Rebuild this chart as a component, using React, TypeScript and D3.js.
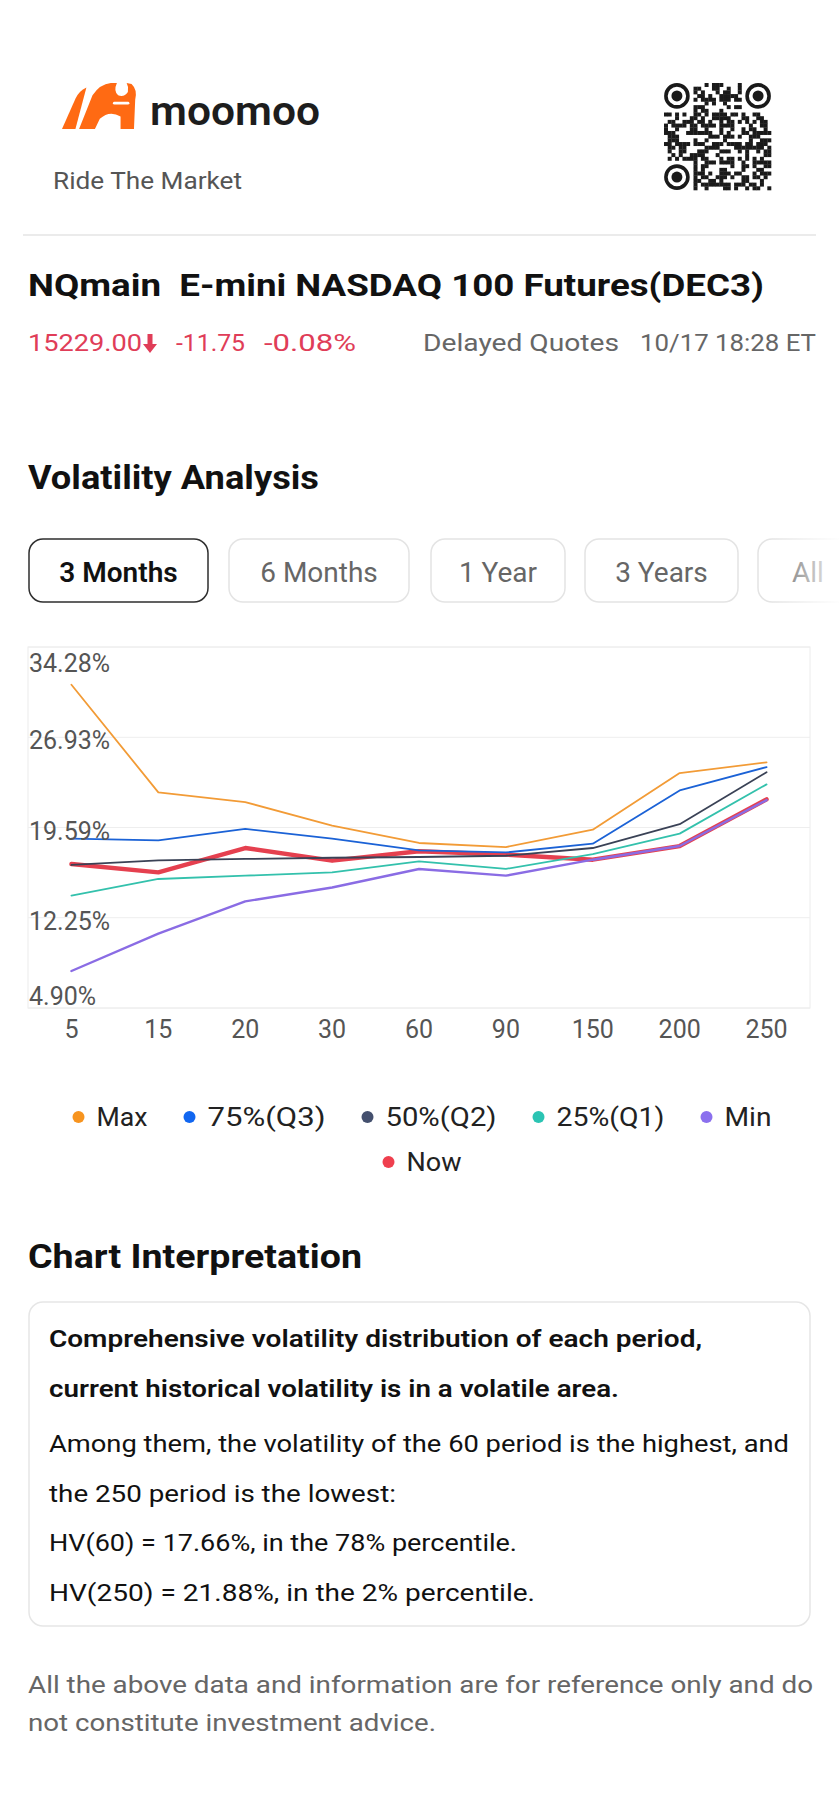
import React, { useMemo } from "react";
import * as d3 from "d3";

// ---------- data ----------
const periods = ["5", "15", "20", "30", "60", "90", "150", "200", "250"];
const maxValues = [31.21, 22.45, 21.66, 19.74, 18.33, 18.0, 19.41, 24.02, 24.89];
const q3Values = [18.68, 18.54, 19.47, 18.68, 17.73, 17.56, 18.27, 22.61, 24.51];
const q2Values = [16.54, 16.91, 17.03, 17.13, 17.19, 17.29, 17.92, 19.86, 24.09];
const q1Values = [14.04, 15.4, 15.67, 15.94, 16.83, 16.22, 17.43, 19.09, 23.1];
const minValues = [7.91, 10.95, 13.58, 14.71, 16.21, 15.67, 16.97, 18.08, 21.82];
const nowValues = [16.62, 15.94, 17.92, 16.89, 17.66, 17.38, 16.97, 18.08, 21.88];
const yTickValues = [4.9, 12.25, 19.59, 26.93, 34.28];
const seriesNames = ["Max", "75%(Q3)", "50%(Q2)", "25%(Q1)", "Min", "Now"];
const tabLabels = ["3 Months", "6 Months", "1 Year", "3 Years", "All"];

// ---------- styling ----------
const FONT = "Roboto, 'Noto Sans', 'DejaVu Sans', sans-serif";
const seriesColors = ["#F29B36", "#1B62D6", "#3A4256", "#33C1AC", "#8A6CE4", "#E5404F"];
const legendColors = ["#F7941F", "#1166F0", "#44506E", "#2BC4B3", "#8B70EE", "#EF3F4E"];
const legendTextWidths = [51, 118, 111, 108, 47, 55];
const RED = "#E03D58";

const W = 839;
const H = 1814;
const plot = { left: 28, right: 810, top: 647, bottom: 1008 };

// deterministic decorative QR pattern
function qrModules(n: number): boolean[][] {
  let s = 12345;
  const grid: boolean[][] = [];
  for (let r = 0; r < n; r++) {
    const row: boolean[] = [];
    for (let c = 0; c < n; c++) {
      s = (s * 1103515245 + 12345) & 0x7fffffff;
      row.push(((s >> 16) & 7) < 4);
    }
    grid.push(row);
  }
  return grid;
}

function Logo() {
  return (
    <g>
      <g transform="translate(62,83) scale(1.22,1.12) translate(-73,-86)">
        <path d="M73,127 L84,100 Q87,93 93,90 L84,127 Z" fill="#FF6A13" />
        <path
          d="M87,127 L98,97 Q104,87 113,86 L118,86 Q115,93 119,97 Q124,99 127,94 Q128,90 126,86 L130,87 Q135,92 133,101 L132,127 L121,127 L121,116 Q112,110 104,118 L100,127 Z"
          fill="#FF6A13"
        />
        <path d="M116,104 L127,104" stroke="#fff" strokeWidth={2.5} strokeLinecap="round" />
      </g>
      <text x={150} y={125} fontFamily={FONT} fontSize={41} fontWeight={600} fill="#1d1d1d" textLength={170} lengthAdjust="spacingAndGlyphs">
        moomoo
      </text>
      <text x={53} y={189} fontFamily={FONT} fontSize={24} fill="#555" textLength={189} lengthAdjust="spacingAndGlyphs">
        Ride The Market
      </text>
    </g>
  );
}

function QR() {
  const n = 29;
  const x0 = 664;
  const y0 = 83;
  const size = 107;
  const m = size / n;
  const grid = useMemo(() => qrModules(n), []);
  const cells: JSX.Element[] = [];
  const inFinder = (r: number, c: number) =>
    (r < 8 && c < 8) || (r < 8 && c >= n - 8) || (r >= n - 8 && c < 8);
  grid.forEach((row, r) =>
    row.forEach((on, c) => {
      if (on && !inFinder(r, c)) {
        cells.push(<rect key={`${r}-${c}`} x={x0 + c * m} y={y0 + r * m} width={m + 0.3} height={m + 0.3} fill="#1a1a1a" />);
      }
    })
  );
  const finders = [
    [x0 + 3.5 * m, y0 + 3.5 * m],
    [x0 + (n - 3.5) * m, y0 + 3.5 * m],
    [x0 + 3.5 * m, y0 + (n - 3.5) * m],
  ];
  return (
    <g>
      {cells}
      {finders.map(([cx, cy], i) => (
        <g key={i}>
          <circle cx={cx} cy={cy} r={11} fill="none" stroke="#1a1a1a" strokeWidth={3.6} />
          <circle cx={cx} cy={cy} r={5.5} fill="#1a1a1a" />
        </g>
      ))}
    </g>
  );
}

export default function App() {
  const x = d3.scalePoint<string>().domain(periods).range([plot.left, plot.right]).padding(0.5);
  const y = d3.scaleLinear().domain([yTickValues[0], yTickValues[yTickValues.length - 1]]).range([plot.bottom, plot.top]);

  const line = d3
    .line<number>()
    .x((_, i) => x(periods[i]) as number)
    .y((v) => y(v));

  const series = [maxValues, q3Values, q2Values, q1Values, minValues, nowValues];
  // draw order: Now underneath, then Max..Min on top
  const drawOrder = [5, 0, 1, 2, 3, 4];

  // legend layout
  const rows = [[0, 1, 2, 3, 4], [5]];
  const legendItems: { i: number; cx: number; cy: number }[] = [];
  const itemGap = 36;
  const rowY = [1117, 1162];
  rows.forEach((row, ri) => {
    const widths = row.map((i) => 24 + legendTextWidths[i]);
    const total = widths.reduce((a, b) => a + b, 0) + itemGap * (row.length - 1);
    let cur = 422 - total / 2;
    row.forEach((i, k) => {
      legendItems.push({ i, cx: cur + 6, cy: rowY[ri] });
      cur += widths[k] + itemGap;
    });
  });

  const yLabelOffset = (k: number) => (k === 0 ? -3 : k === yTickValues.length - 1 ? 25 : 12);

  const tabs = [
    { x: 29, w: 179 },
    { x: 229, w: 180 },
    { x: 431, w: 134 },
    { x: 585, w: 153 },
    { x: 758, w: 100 },
  ];

  const boxLines = [
    { t: "Comprehensive volatility distribution of each period,", y: 1347, w: 653, b: true },
    { t: "current historical volatility is in a volatile area.", y: 1397, w: 570, b: true },
    { t: "Among them, the volatility of the 60 period is the highest, and", y: 1452, w: 740, b: false },
    { t: "the 250 period is the lowest:", y: 1502, w: 347, b: false },
    { t: "HV(60) = 17.66%, in the 78% percentile.", y: 1551, w: 468, b: false },
    { t: "HV(250) = 21.88%, in the 2% percentile.", y: 1601, w: 486, b: false },
  ];

  return (
    <div style={{ width: W, height: H, background: "#fff" }}>
      <style>{`body{margin:0;background:#fff}`}</style>
      <svg width={W} height={H} viewBox={`0 0 ${W} ${H}`} style={{ display: "block" }}>
        <defs>
          <linearGradient id="fade" x1="0" x2="1" y1="0" y2="0">
            <stop offset="0" stopColor="#fff" stopOpacity={0} />
            <stop offset="1" stopColor="#fff" stopOpacity={0.95} />
          </linearGradient>
        </defs>
        <rect x={0} y={0} width={W} height={H} fill="#fff" />

        {/* header */}
        <Logo />
        <QR />
        <rect x={23} y={234} width={793} height={2} fill="#ebebeb" />

        <text x={28} y={296} fontFamily={FONT} fontSize={31} fontWeight={700} fill="#111" textLength={736} lengthAdjust="spacingAndGlyphs">
          NQmain{"\u00a0\u00a0"}E-mini NASDAQ 100 Futures(DEC3)
        </text>

        <g fontFamily={FONT} fontSize={24}>
          <text x={28} y={351} fill={RED} textLength={114} lengthAdjust="spacingAndGlyphs">15229.00</text>
          <path d="M147.5,334 h5 v10 h4.5 l-7,9 l-7,-9 h4.5 z" fill={RED} />
          <text x={176} y={351} fill={RED} textLength={69} lengthAdjust="spacingAndGlyphs">-11.75</text>
          <text x={264} y={351} fill={RED} textLength={92} lengthAdjust="spacingAndGlyphs">-0.08%</text>
          <text x={423} y={351} fill="#666" textLength={196} lengthAdjust="spacingAndGlyphs">Delayed Quotes</text>
          <text x={640} y={351} fill="#666" textLength={176} lengthAdjust="spacingAndGlyphs">10/17 18:28 ET</text>
        </g>

        <text x={28} y={489} fontFamily={FONT} fontSize={33} fontWeight={700} fill="#111" textLength={291} lengthAdjust="spacingAndGlyphs">
          Volatility Analysis
        </text>

        {/* tabs */}
        {tabs.map((t, i) => (
          <g key={i}>
            <rect
              x={t.x}
              y={539}
              width={t.w}
              height={63}
              rx={14}
              fill="#fff"
              stroke={i === 0 ? "#2e2e2e" : "#e4e4e4"}
              strokeWidth={1.5}
            />
            <text
              x={t.x + t.w / 2}
              y={582}
              textAnchor="middle"
              fontFamily={FONT}
              fontSize={28}
              fontWeight={i === 0 ? 600 : 400}
              fill={i === 0 ? "#111" : "#666"}
            >
              {tabLabels[i]}
            </text>
          </g>
        ))}
        <rect x={770} y={530} width={69} height={80} fill="url(#fade)" />

        {/* chart frame & grid */}
        <rect
          x={plot.left}
          y={plot.top}
          width={plot.right - plot.left}
          height={plot.bottom - plot.top}
          fill="none"
          stroke="#ececec"
          strokeWidth={1}
        />
        {yTickValues.map((v, k) => (
          <line key={k} x1={plot.left} x2={plot.right} y1={y(v)} y2={y(v)} stroke="#eeeeee" strokeWidth={1} />
        ))}

        {/* series */}
        {drawOrder.map((si) => (
          <path
            key={si}
            d={line(series[si]) || ""}
            fill="none"
            stroke={seriesColors[si]}
            strokeWidth={si === 5 ? 4.4 : si === 4 ? 2.4 : 1.8}
            strokeLinejoin="round"
            strokeLinecap="round"
          />
        ))}

        {/* y labels */}
        {yTickValues.map((v, k) => (
          <text key={k} x={plot.left + 1} y={y(v) + yLabelOffset(k)} fontFamily={FONT} fontSize={25} fill="#555">
            {v.toFixed(2)}%
          </text>
        ))}

        {/* x labels */}
        {periods.map((p) => (
          <text key={p} x={x(p) as number} y={1038} textAnchor="middle" fontFamily={FONT} fontSize={25} fill="#555">
            {p}
          </text>
        ))}

        {/* legend */}
        {legendItems.map(({ i, cx, cy }) => (
          <g key={i}>
            <circle cx={cx} cy={cy} r={6} fill={legendColors[i]} />
            <text
              x={cx + 18}
              y={cy + 9}
              fontFamily={FONT}
              fontSize={26}
              fill="#222"
              textLength={legendTextWidths[i]}
              lengthAdjust="spacingAndGlyphs"
            >
              {seriesNames[i]}
            </text>
          </g>
        ))}

        {/* interpretation */}
        <text x={28} y={1268} fontFamily={FONT} fontSize={33} fontWeight={700} fill="#111" textLength={334} lengthAdjust="spacingAndGlyphs">
          Chart Interpretation
        </text>
        <rect x={29} y={1302} width={781} height={324} rx={14} fill="#fff" stroke="#e6e6e6" strokeWidth={1.5} />
        {boxLines.map((l, k) => (
          <text
            key={k}
            x={49}
            y={l.y}
            fontFamily={FONT}
            fontSize={24}
            fontWeight={l.b ? 600 : 400}
            fill="#111"
            textLength={l.w}
            lengthAdjust="spacingAndGlyphs"
          >
            {l.t}
          </text>
        ))}

        {/* footer */}
        <text x={28} y={1693} fontFamily={FONT} fontSize={24} fill="#666" textLength={785} lengthAdjust="spacingAndGlyphs">
          All the above data and information are for reference only and do
        </text>
        <text x={28} y={1731} fontFamily={FONT} fontSize={24} fill="#666" textLength={408} lengthAdjust="spacingAndGlyphs">
          not constitute investment advice.
        </text>
      </svg>
    </div>
  );
}
